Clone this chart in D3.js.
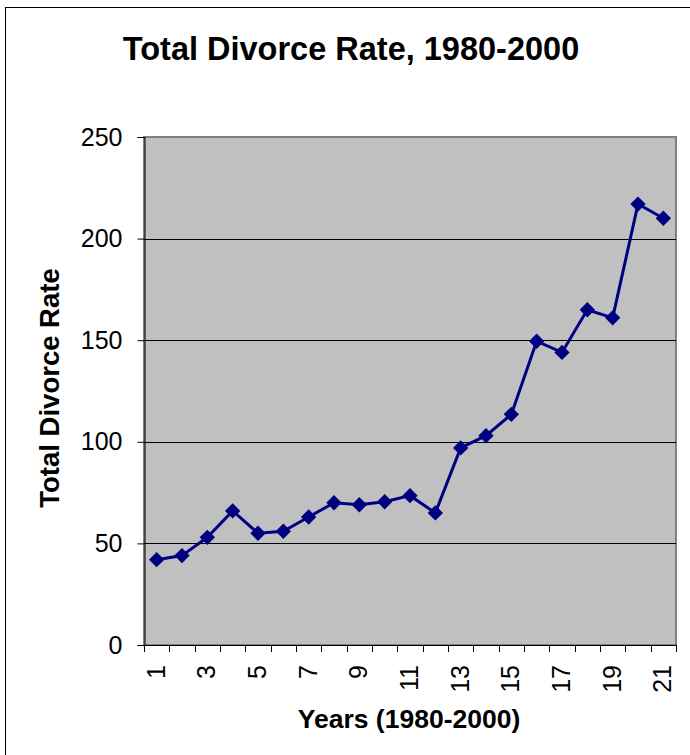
<html lang="en"><head>
<meta http-equiv="Content-Type" content="text/html; charset=UTF-8">
<title>Total Divorce Rate</title>
<script type="text/javascript" src="https://cdn.jsdelivr.net/npm/d3@7"></script>
<style type="text/css">
body { margin: 0; background: #fff; }
text { font-family: "Liberation Sans", Arial, sans-serif; }
</style>
</head>
<body>
<script type="text/javascript">

var width = 690;
var height = 755;

// values
var years = d3.range(1, 22);
var rates = [42, 44, 53, 66, 55, 56, 63, 70, 69, 70.5, 73.5, 65, 97, 103, 113.5, 149.5, 144, 165, 161, 217, 210];
var yTicks = [0, 50, 100, 150, 200, 250];
var xLabels = [1, 3, 5, 7, 9, 11, 13, 15, 17, 19, 21];

var plot = {left: 144, top: 137, right: 676, bottom: 645};

var svg = d3.select("body")
            .append("svg")
            .attr("width", width)
            .attr("height", height);

// outer chart border
svg.append("rect")
   .attr("x", 5.5).attr("y", 7.5)
   .attr("width", width + 10).attr("height", height + 10)
   .attr("fill", "white")
   .attr("stroke", "black");

var x = d3.scaleBand().domain(years).range([plot.left, plot.right]);
var y = d3.scaleLinear().domain([0, 250]).range([plot.bottom, plot.top]);

// plot area
svg.append("rect")
   .attr("x", plot.left).attr("y", plot.top)
   .attr("width", plot.right - plot.left).attr("height", plot.bottom - plot.top)
   .attr("fill", "#c0c0c0")
   .attr("stroke", "#808080")
   .attr("stroke-width", 2);

// gridlines
svg.selectAll(".grid")
   .data(yTicks.filter(function(d){ return d > 0 && d < 250; }))
   .enter().append("line")
   .attr("x1", plot.left).attr("x2", plot.right)
   .attr("y1", function(d){ return Math.round(y(d)) + 0.5; })
   .attr("y2", function(d){ return Math.round(y(d)) + 0.5; })
   .attr("stroke", "black")
   .attr("stroke-width", 1);

// y axis
var yAxis = svg.append("g")
   .attr("transform", "translate(" + (plot.left + 0.5) + ",0)")
   .call(d3.axisLeft(y).tickValues(yTicks).tickSize(7).tickPadding(15));
yAxis.selectAll("text")
   .attr("font-size", 25)
   .attr("fill", "black");
yAxis.selectAll("line, path").attr("stroke", "black");

// x axis ticks at category edges
var edges = years.map(function(d){ return x(d); }).concat([plot.right]);
svg.selectAll(".xtick")
   .data(edges)
   .enter().append("line")
   .attr("x1", function(d){ return Math.round(d) + 0.5; })
   .attr("x2", function(d){ return Math.round(d) + 0.5; })
   .attr("y1", plot.bottom).attr("y2", plot.bottom + 7)
   .attr("stroke", "black");
svg.append("line")
   .attr("x1", plot.left).attr("x2", plot.right + 1)
   .attr("y1", plot.bottom + 0.5).attr("y2", plot.bottom + 0.5)
   .attr("stroke", "black");

svg.selectAll(".xlabel")
   .data(xLabels)
   .enter().append("text")
   .attr("transform", function(d){
     return "translate(" + (x(d) + x.bandwidth() / 2 + 8) + "," + (plot.bottom + 20) + ") rotate(-90)";
   })
   .attr("text-anchor", "end")
   .attr("font-size", 25)
   .text(function(d){ return d; });

// line + markers
var line = d3.line()
   .x(function(d, i){ return x(years[i]) + x.bandwidth() / 2; })
   .y(function(d){ return y(d); });

svg.append("path")
   .datum(rates)
   .attr("d", line)
   .attr("fill", "none")
   .attr("stroke", "#000080")
   .attr("stroke-width", 3);

svg.selectAll(".marker")
   .data(rates)
   .enter().append("path")
   .attr("d", d3.symbol().type(d3.symbolDiamond2).size(150))
   .attr("transform", function(d, i){
     return "translate(" + (x(years[i]) + x.bandwidth() / 2) + "," + y(d) + ")";
   })
   .attr("fill", "#000080");

// titles
svg.append("text")
   .attr("x", 351).attr("y", 60)
   .attr("text-anchor", "middle")
   .attr("font-size", 32.5)
   .attr("font-weight", "bold")
   .text("Total Divorce Rate, 1980-2000");

svg.append("text")
   .attr("transform", "translate(59,388) rotate(-90)")
   .attr("text-anchor", "middle")
   .attr("font-size", 27.5)
   .attr("font-weight", "bold")
   .text("Total Divorce Rate");

svg.append("text")
   .attr("x", 409).attr("y", 728)
   .attr("text-anchor", "middle")
   .attr("font-size", 26.5)
   .attr("font-weight", "bold")
   .text("Years (1980-2000)");

</script>
</body></html>
